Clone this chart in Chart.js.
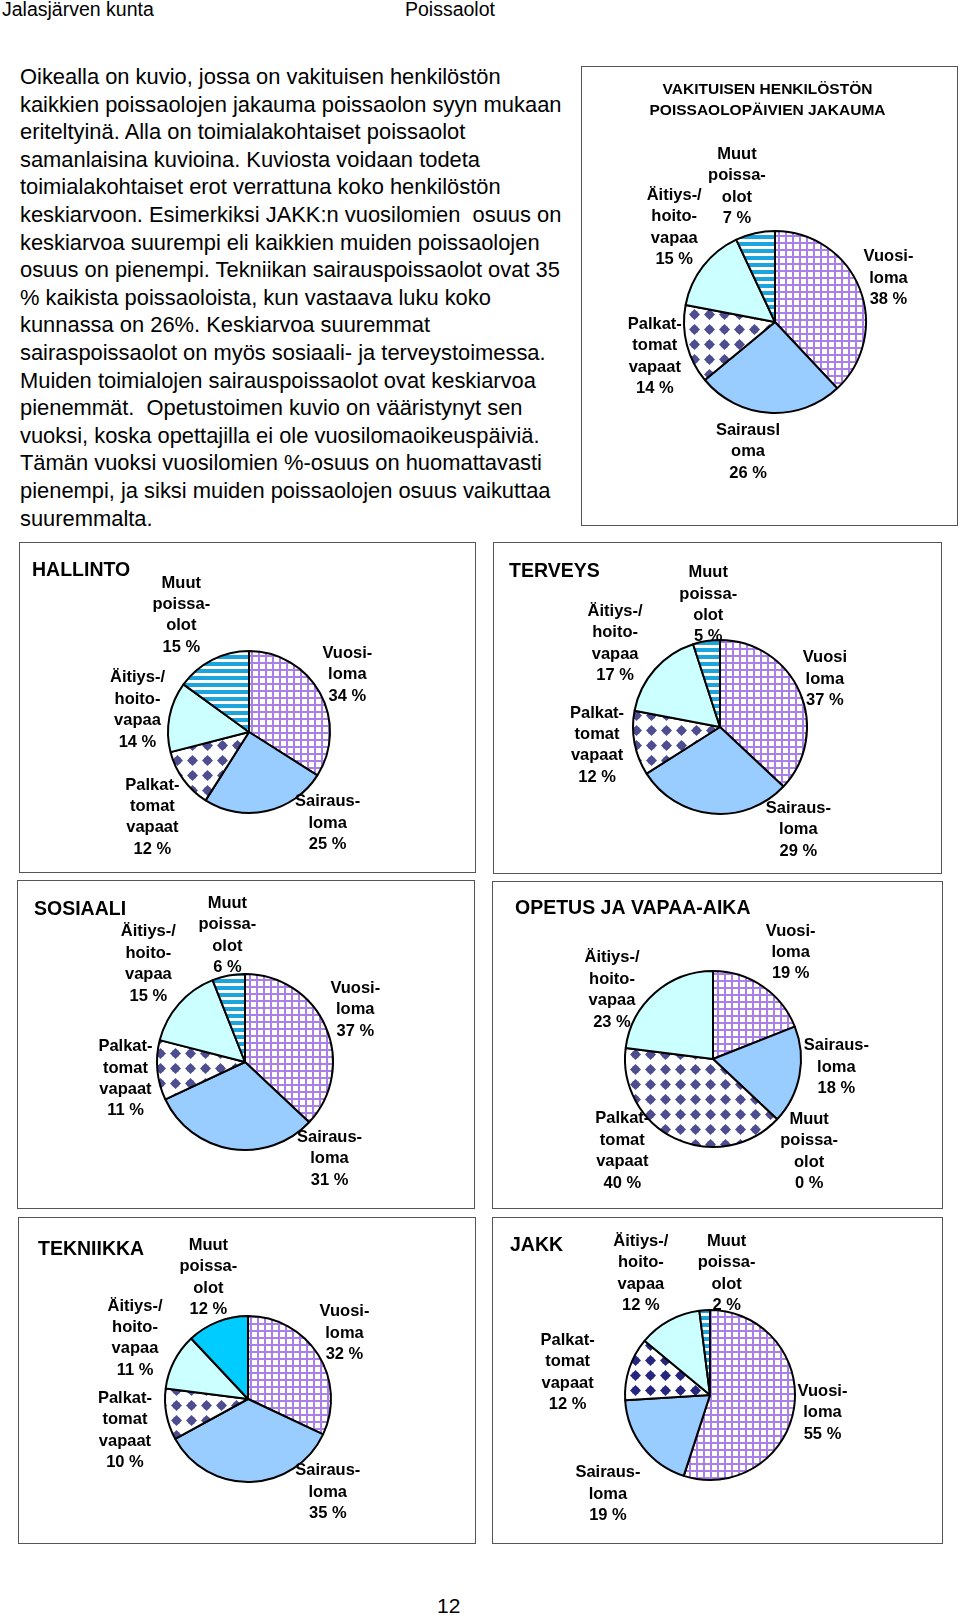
<!DOCTYPE html>
<html>
<head>
<meta charset="utf-8">
<script src="https://cdn.jsdelivr.net/npm/chart.js@4"></script>
<style>
  body { margin: 0; background: #fff; width: 960px; height: 1615px; position: relative; overflow: hidden;
         font-family: "Liberation Sans", Arial, sans-serif; color: #000; }
  .hdr { position: absolute; top: 0; font-size: 19.5px; line-height: 19px; }
  #para { position: absolute; left: 20px; top: 63px; font-size: 21.9px; line-height: 27.6px; white-space: pre; }
  .box { position: absolute; outline: 1px solid #555; box-shadow: 1px 1px 0 #999; }
  .box canvas { position: absolute; left: 0; top: 0; }
  #pageno { position: absolute; left: 437px; top: 1595px; font-size: 21px; line-height: 21px; }
</style>
</head>
<body>
<div class="hdr" style="left:2px">Jalasjärven kunta</div>
<div class="hdr" style="left:405px">Poissaolot</div>
<div id="para">Oikealla on kuvio, jossa on vakituisen henkilöstön
kaikkien poissaolojen jakauma poissaolon syyn mukaan
eriteltyinä. Alla on toimialakohtaiset poissaolot
samanlaisina kuvioina. Kuviosta voidaan todeta
toimialakohtaiset erot verrattuna koko henkilöstön
keskiarvoon. Esimerkiksi JAKK:n vuosilomien  osuus on
keskiarvoa suurempi eli kaikkien muiden poissaolojen
osuus on pienempi. Tekniikan sairauspoissaolot ovat 35
% kaikista poissaoloista, kun vastaava luku koko
kunnassa on 26%. Keskiarvoa suuremmat
sairaspoissaolot on myös sosiaali- ja terveystoimessa.
Muiden toimialojen sairauspoissaolot ovat keskiarvoa
pienemmät.  Opetustoimen kuvio on vääristynyt sen
vuoksi, koska opettajilla ei ole vuosilomaoikeuspäiviä.
Tämän vuoksi vuosilomien %-osuus on huomattavasti
pienempi, ja siksi muiden poissaolojen osuus vaikuttaa
suuremmalta.</div>
<div id="pageno">12</div>

<script>
// categories (order used by most charts, clockwise from 12 o'clock)
const categories = ['Vuosiloma', 'Sairausloma', 'Palkattomat vapaat', 'Äitiys-/hoitovapaa', 'Muut poissaolot'];
const labelLines = [
  ['Vuosi-', 'loma'],
  ['Sairaus-', 'loma'],
  ['Palkat-', 'tomat', 'vapaat'],
  ['Äitiys-/', 'hoito-', 'vapaa'],
  ['Muut', 'poissa-', 'olot']
];

// values in %, same order as categories
const kokoValues      = [38, 26, 14, 15, 7];
const hallintoValues  = [34, 25, 12, 14, 15];
const terveysValues   = [37, 29, 12, 17, 5];
const sosiaaliValues  = [37, 31, 11, 15, 6];
const opetusValues    = [19, 18, 40, 23, 0];
const tekniikkaValues = [32, 35, 10, 11, 12];
const jakkValues      = [55, 19, 12, 12, 2];

const FONT = '"Liberation Sans", Arial, sans-serif';
const LH = 21.4;

function makePattern(draw, w, h) {
  const c = document.createElement('canvas');
  c.width = w; c.height = h;
  const g = c.getContext('2d');
  g.fillStyle = '#fff';
  g.fillRect(0, 0, w, h);
  draw(g);
  return g.createPattern(c, 'repeat');
}

const gridFill = makePattern(g => {
  g.fillStyle = '#a97fe8';
  g.fillRect(0, 0, 7, 2);
  g.fillRect(0, 0, 2, 7);
}, 7, 7);

function diamonds(color) {
  return makePattern(g => {
    g.fillStyle = color;
    g.beginPath();
    g.moveTo(7.5, 2); g.lineTo(13, 7.5); g.lineTo(7.5, 13); g.lineTo(2, 7.5);
    g.closePath();
    g.fill();
    g.fillRect(4.5, 4.5, 6, 6);
  }, 15, 15);
}

const stripeFill = makePattern(g => {
  g.fillStyle = '#1ca5dd';
  g.fillRect(0, 0, 7, 4);
}, 7, 7);

const fills = [gridFill, '#99ccff', diamonds('#4d4d8f'), '#ccffff', stripeFill];

// label nudges are keyed by category index: 0 Vuosi, 1 Sairaus, 2 Palkat, 3 Äitiys, 4 Muut
const charts = [
  { title: ['VAKITUISEN HENKILÖSTÖN', 'POISSAOLOPÄIVIEN JAKAUMA'], values: kokoValues,
    box: [582, 67, 375, 458], center: [193, 255], r: 91,
    lines: { 1: ['Sairausl', 'oma'] },
    nudge: { 0: [2, 3], 1: [-19, 3], 2: [-2, 0], 3: [-4, -10], 4: [-11, -1] } },
  { title: 'HALLINTO', titlePos: [12, 27.5], values: hallintoValues,
    box: [20, 543, 455, 329], center: [229, 189], r: 81,
    nudge: { 0: [2, -1], 1: [53, -23], 2: [-6, 10], 3: [-1, 2], 4: [-16, -3] } },
  { title: 'TERVEYS', titlePos: [15, 28.5], values: terveysValues,
    box: [494, 543, 447, 330], center: [226, 184], r: 87,
    lines: { 0: ['Vuosi', 'loma'] },
    nudge: { 0: [1, 1], 1: [90, -20], 2: [-7, -7], 3: [-16, 5], 4: [7, 10] } },
  { title: 'SOSIAALI', titlePos: [16, 29], values: sosiaaliValues,
    box: [18, 881, 456, 327], center: [227, 181], r: 88,
    nudge: { 0: [3, -3], 1: [104, -26], 2: [-1, 4], 3: [-7, -9], 4: [5, 6] } },
  { title: 'OPETUS JA VAPAA-AIKA', titlePos: [22, 27], values: opetusValues,
    box: [493, 882, 449, 326], center: [220, 177], r: 88,
    order: [0, 1, 4, 2, 3],
    nudge: { 0: [12, -4], 1: [1, -15], 2: [-40, -30], 3: [-22, 32], 4: [8, 0] } },
  { title: 'TEKNIIKKA', titlePos: [19, 31.5], values: tekniikkaValues,
    box: [19, 1218, 456, 325], center: [229, 181], r: 83,
    fill: { 4: '#00ccff' },
    nudge: { 0: [2, -2], 1: [76, -26], 2: [-11, 7], 3: [-11, -2], 4: [3, -1] } },
  { title: 'JAKK', titlePos: [17, 28], values: jakkValues,
    box: [493, 1218, 449, 325], center: [217, 177], r: 85,
    fill: { 2: diamonds('#26267e') },
    nudge: { 0: [0, -1], 1: [-6, 25], 2: [-32, 18], 3: [-13, -6], 4: [24, 10] } }
];

function labelPlugin(cfg, order) {
  return {
    id: 'sliceLabels',
    afterDraw(chart) {
      const ctx = chart.ctx;
      ctx.save();
      ctx.fillStyle = '#000';
      ctx.textBaseline = 'middle';
      if (Array.isArray(cfg.title)) {
        ctx.font = 'bold 15.5px ' + FONT;
        ctx.textAlign = 'center';
        cfg.title.forEach((t, k) => ctx.fillText(t, cfg.box[2] / 2 - 2, 23 + k * 21));
      } else {
        ctx.font = 'bold 19.5px ' + FONT;
        ctx.textAlign = 'left';
        ctx.fillText(cfg.title, cfg.titlePos[0], cfg.titlePos[1]);
      }
      ctx.font = 'bold 16.5px ' + FONT;
      ctx.textAlign = 'center';
      const meta = chart.getDatasetMeta(0);
      meta.data.forEach((arc, i) => {
        const ci = order[i];
        const p = arc.getProps(['x', 'y', 'startAngle', 'endAngle', 'outerRadius'], true);
        const mid = (p.startAngle + p.endAngle) / 2;
        const dx = Math.cos(mid), dy = Math.sin(mid);
        const lines = ((cfg.lines && cfg.lines[ci]) || labelLines[ci]).concat([cfg.values[ci] + ' %']);
        const w = Math.max(...lines.map(t => ctx.measureText(t).width));
        const h = lines.length * LH;
        const nudge = (cfg.nudge && cfg.nudge[ci]) || [0, 0];
        const cx = p.x + dx * (p.outerRadius + 4) + dx * w / 2 + nudge[0];
        const cy = p.y + dy * (p.outerRadius + 4) + dy * h / 2 + nudge[1];
        lines.forEach((t, k) => ctx.fillText(t, cx, cy - h / 2 + LH * (k + 0.5)));
      });
      ctx.restore();
    }
  };
}

charts.forEach(cfg => {
  const [bx, by, bw, bh] = cfg.box;
  const div = document.createElement('div');
  div.className = 'box';
  div.style.cssText = `left:${bx}px;top:${by}px;width:${bw}px;height:${bh}px`;
  const canvas = document.createElement('canvas');
  canvas.width = bw; canvas.height = bh;
  div.appendChild(canvas);
  document.body.appendChild(div);

  const order = cfg.order || [0, 1, 2, 3, 4];
  const [cx, cy] = cfg.center;
  const s = cfg.r + 4;

  new Chart(canvas, {
    type: 'pie',
    data: {
      labels: order.map(i => categories[i]),
      datasets: [{
        data: order.map(i => cfg.values[i]),
        backgroundColor: order.map(i => (cfg.fill && cfg.fill[i]) || fills[i]),
        borderColor: '#000',
        borderWidth: 2,
        hoverOffset: 0
      }]
    },
    options: {
      responsive: false,
      animation: false,
      radius: cfg.r,
      layout: { padding: { left: cx - s, right: bw - cx - s, top: cy - s, bottom: bh - cy - s } },
      plugins: { legend: { display: false }, tooltip: { enabled: false } }
    },
    plugins: [labelPlugin(cfg, order)]
  });
});
</script>
</body>
</html>
